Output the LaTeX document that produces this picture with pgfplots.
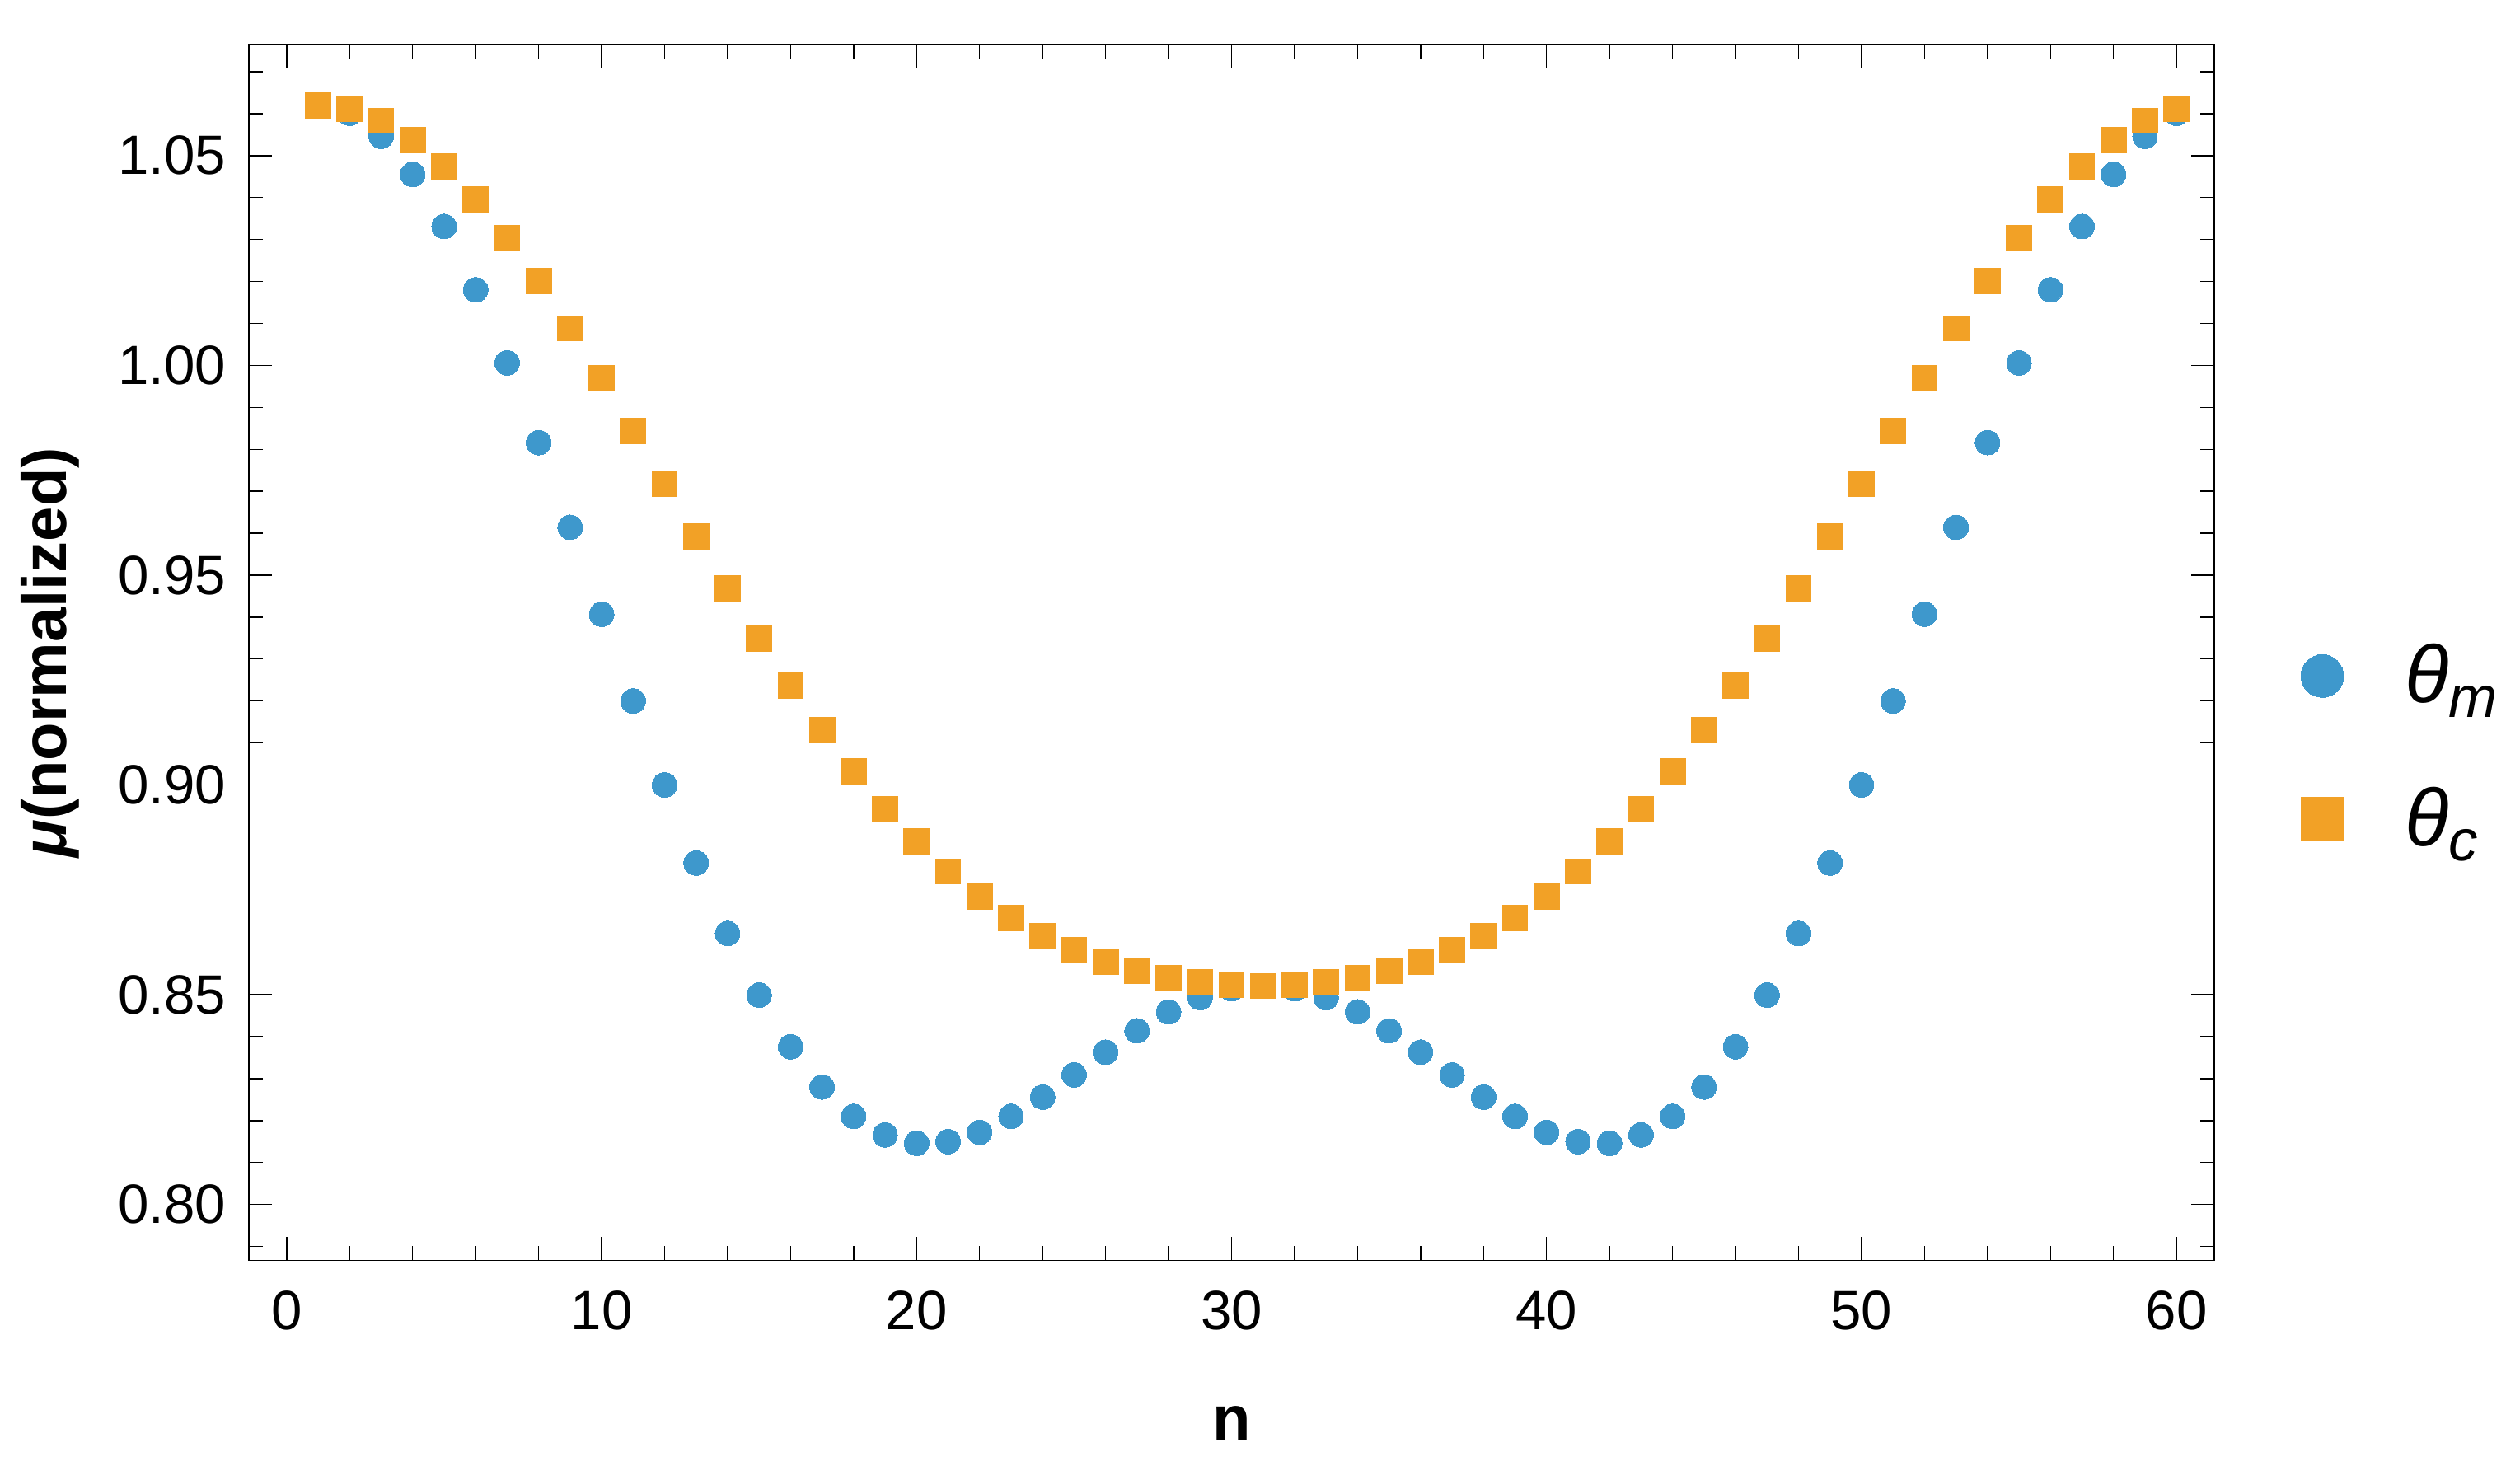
\documentclass[border=0pt]{standalone}
\usepackage{fontspec}
\setmainfont{Liberation Sans}
\usepackage{pgfplots}
\usepackage{pgfplotstable}
\pgfplotsset{compat=1.18}
\definecolor{cblue}{RGB}{62,152,204}
\definecolor{corange}{RGB}{242,161,38}

\pgfplotstableread{
n thm thc
1 1.0621 1.0620
2 1.0601 1.0611
3 1.0546 1.0583
4 1.0455 1.0537
5 1.0331 1.0474
6 1.0180 1.0396
7 1.0006 1.0304
8 0.9816 1.0201
9 0.9614 1.0088
10 0.9407 0.9969
11 0.9200 0.9844
12 0.9000 0.9717
13 0.8814 0.9592
14 0.8646 0.9468
15 0.8499 0.9349
16 0.8376 0.9236
17 0.8280 0.9130
18 0.8210 0.9032
19 0.8166 0.8943
20 0.8146 0.8865
21 0.8150 0.8794
22 0.8172 0.8734
23 0.8210 0.8683
24 0.8256 0.8640
25 0.8309 0.8606
26 0.8363 0.8578
27 0.8414 0.8557
28 0.8459 0.8540
29 0.8493 0.8530
30 0.8514 0.8523
31 0.8521 0.8521
32 0.8514 0.8523
33 0.8493 0.8530
34 0.8459 0.8540
35 0.8414 0.8557
36 0.8363 0.8578
37 0.8309 0.8606
38 0.8256 0.8640
39 0.8210 0.8683
40 0.8172 0.8734
41 0.8150 0.8794
42 0.8146 0.8865
43 0.8166 0.8943
44 0.8210 0.9032
45 0.8280 0.9130
46 0.8376 0.9236
47 0.8499 0.9349
48 0.8646 0.9468
49 0.8814 0.9592
50 0.9000 0.9717
51 0.9200 0.9844
52 0.9407 0.9969
53 0.9614 1.0088
54 0.9816 1.0201
55 1.0006 1.0304
56 1.0180 1.0396
57 1.0331 1.0474
58 1.0455 1.0537
59 1.0546 1.0583
60 1.0601 1.0611
}\datatab

\begin{document}
\begin{tikzpicture}
\useasboundingbox (-75.5pt,-62.25pt) rectangle (689pt,382.35pt);
\begin{axis}[
  at={(0pt,0pt)}, anchor=south west,
  scale only axis, width=596.25pt, height=368.75pt,
  xmin=-1.2, xmax=61.2, ymin=0.7867, ymax=1.0764,
  axis line style={line width=0.35pt, black},
  tick align=inside, tick pos=both,
  xticklabel pos=lower, yticklabel pos=left,
  xtick={0,10,20,30,40,50,60},
  ytick={0.80,0.85,0.90,0.95,1.00,1.05},
  minor xtick={2,4,6,8,12,14,16,18,22,24,26,28,32,34,36,38,42,44,46,48,52,54,56,58},
  minor ytick={0.79,0.81,0.82,0.83,0.84,0.86,0.87,0.88,0.89,0.91,0.92,0.93,0.94,0.96,0.97,0.98,0.99,1.01,1.02,1.03,1.04,1.06,1.07},
  major tick length=7pt, minor tick length=4.25pt,
  every tick/.style={black, line width=0.35pt},
  ticklabel style={font=\fontsize{16.8}{20}\selectfont},
  /pgf/number format/assume math mode=true,
  yticklabel style={/pgf/number format/fixed, /pgf/number format/fixed zerofill, /pgf/number format/precision=2},
  xticklabel style={inner sep=0pt, anchor=north, yshift=-9pt},
  yticklabel style={inner sep=0pt, anchor=east, xshift=-6.75pt},
  xlabel={\textbf{n}},
  ylabel={\textbf{\textit{μ}(normalized)}},
  every axis x label/.style={at={(axis description cs:0.5,-0.1342)}, anchor=center, font=\fontsize{19}{22}\selectfont},
  every axis y label/.style={at={(axis description cs:-0.10105,0.5)}, anchor=center, rotate=90, font=\fontsize{19}{22}\selectfont},
  legend style={at={(axis description cs:1,0.4220)}, anchor=west, xshift=26.25pt,
    draw=none, fill=none, inner sep=0pt, outer sep=0pt,
    row sep=24pt, column sep=18.5pt,
    nodes={inner sep=0pt},
    font=\fontsize{24.6}{28}\selectfont},
  legend cell align=left,
]
\addplot[cblue, only marks, mark=*, mark size=3.75pt, line width=0pt,
  mark options={solid, fill=cblue, draw=cblue, line width=0pt},
  legend image code/.code={\fill[cblue] (6.5pt,0pt) circle (6.5pt);}]
  table[x=n, y=thm] {\datatab};
\addlegendentry{\textit{θ}\raisebox{-4.5pt}{\fontsize{17.7}{20}\selectfont\textit{m}}}
\addplot[corange, only marks, mark=square*, mark size=3.85pt, line width=0pt,
  mark options={solid, fill=corange, draw=corange, line width=0pt},
  legend image code/.code={\fill[corange] (0pt,-6.5pt) rectangle (13pt,6.5pt);}]
  table[x=n, y=thc] {\datatab};
\addlegendentry{\textit{θ}\raisebox{-4.5pt}{\fontsize{17.7}{20}\selectfont\textit{c}}}
\end{axis}
\end{tikzpicture}
\end{document}
